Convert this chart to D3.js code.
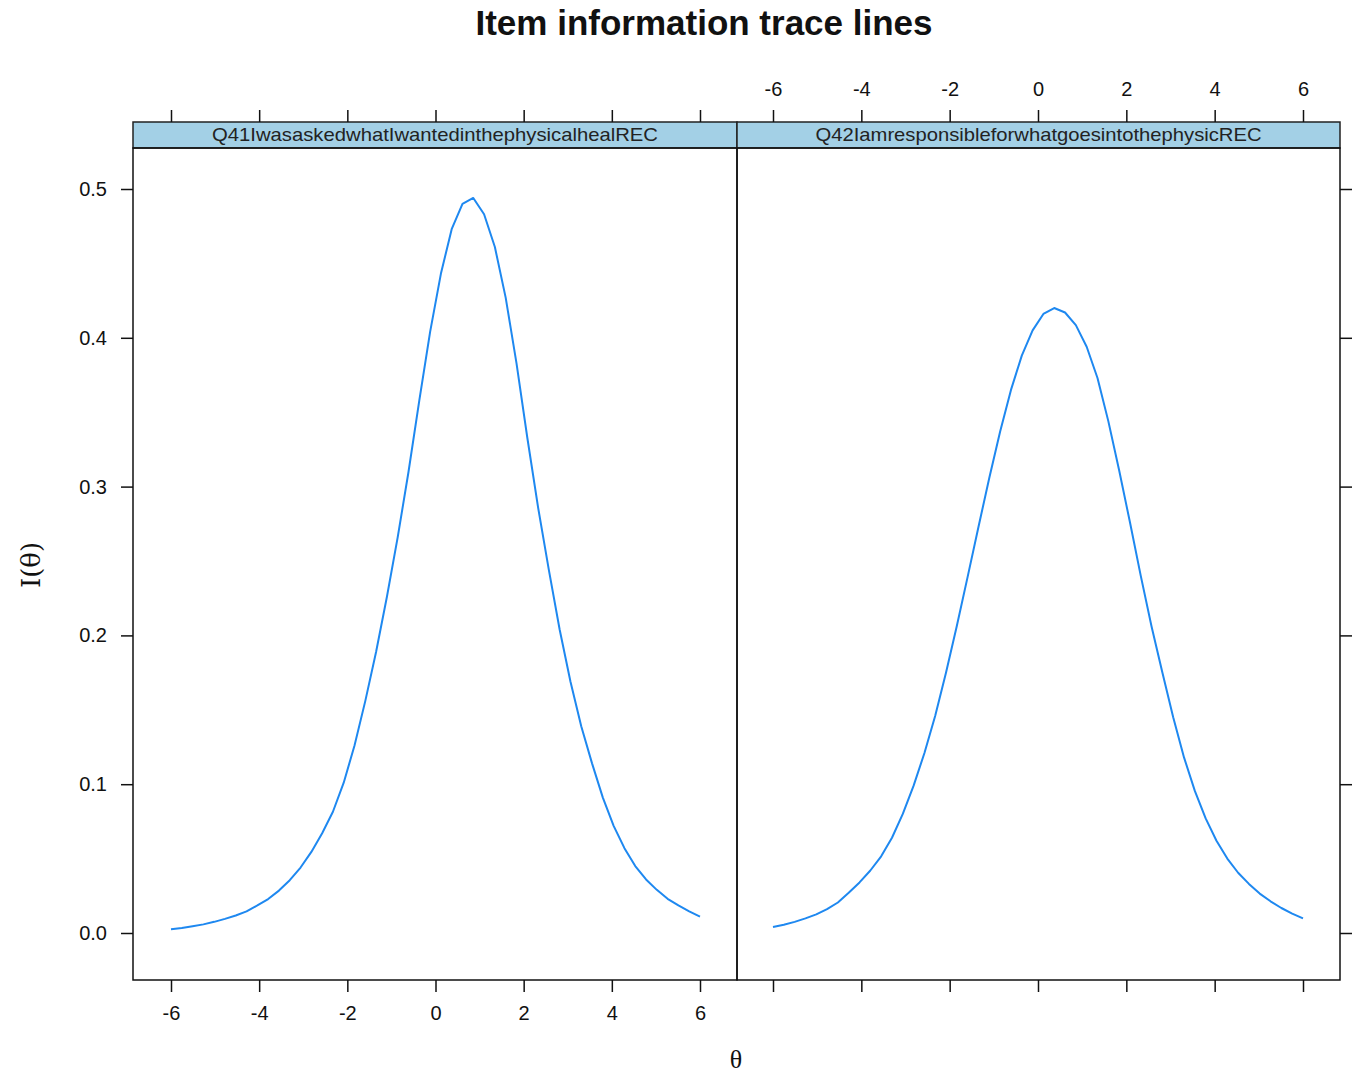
<!DOCTYPE html>
<html>
<head>
<meta charset="utf-8">
<script src="https://cdn.jsdelivr.net/npm/d3@7"></script>
<style>
  html, body { margin: 0; padding: 0; background: #fff; }
  svg { display: block; }
</style>
</head>
<body>
<svg id="chart" width="1357" height="1074"></svg>
<script>
// ---------- data ----------
const panelTitles = [
  "Q41IwasaskedwhatIwantedinthephysicalhealREC",
  "Q42IamresponsibleforwhatgoesintothephysicREC"
];
// theta grid used by the plot (50 points from -6 to 6)
const theta = [-6.000,-5.755,-5.510,-5.265,-5.020,-4.776,-4.531,-4.286,-4.041,-3.796,
  -3.551,-3.306,-3.061,-2.816,-2.571,-2.327,-2.082,-1.837,-1.592,-1.347,
  -1.102,-0.857,-0.612,-0.367,-0.122,0.122,0.367,0.612,0.857,1.102,
  1.347,1.592,1.837,2.082,2.327,2.571,2.816,3.061,3.306,3.551,
  3.796,4.041,4.286,4.531,4.776,5.020,5.265,5.510,5.755,6.000];
const infoQ41 = [0.0025,0.0033,0.0045,0.0058,0.0075,0.0095,0.0118,0.0145,0.0185,0.0228,
  0.0285,0.0355,0.0440,0.0545,0.0670,0.0815,0.1010,0.1260,0.1560,0.1890,
  0.2260,0.2660,0.3100,0.3580,0.4040,0.4430,0.4730,0.4900,0.4940,0.4830,
  0.4610,0.4270,0.3830,0.3330,0.2860,0.2440,0.2040,0.1690,0.1390,0.1140,
  0.0910,0.0720,0.0570,0.0450,0.0360,0.0290,0.0230,0.0185,0.0145,0.0110];
const infoQ42 = [0.0040,0.0055,0.0075,0.0098,0.0125,0.0160,0.0205,0.0270,0.0340,0.0420,
  0.0515,0.0640,0.0800,0.0990,0.1210,0.1460,0.1750,0.2065,0.2395,0.2730,
  0.3060,0.3370,0.3650,0.3880,0.4050,0.4160,0.4200,0.4170,0.4085,0.3940,
  0.3730,0.3440,0.3110,0.2760,0.2400,0.2060,0.1750,0.1450,0.1180,0.0955,
  0.0770,0.0620,0.0500,0.0405,0.0330,0.0265,0.0213,0.0168,0.0130,0.0098];
const series = [infoQ41, infoQ42];
const xTicks = [-6,-4,-2,0,2,4,6];
const yTicks = [0.0,0.1,0.2,0.3,0.4,0.5];

// ---------- layout ----------
const svg = d3.select("#chart");
const font = "'Liberation Sans', Arial, Helvetica, sans-serif";
const panelTop = 148, panelBottom = 980, stripTop = 122;
const panels = [
  {x0: 133, x1: 737, r0: 171, r1: 700},
  {x0: 737, x1: 1340, r0: 773, r1: 1303}
];
const y = d3.scaleLinear().domain([0, 0.5]).range([933, 189]);
const lineColor = "#1e88f0";
const tickLen = 12;
const fmtX = d => String(d);   // plain hyphen minus as in the reference

// title
svg.append("text")
  .attr("x", 704).attr("y", 35)
  .attr("text-anchor", "middle")
  .attr("font-family", font).attr("font-weight", "bold")
  .attr("font-size", 35)
  .attr("fill", "#111")
  .text("Item information trace lines");

panels.forEach((p, i) => {
  const x = d3.scaleLinear().domain([-6, 6]).range([p.r0, p.r1]);
  const g = svg.append("g");

  svg.append("clipPath").attr("id", "clip" + i)
    .append("rect").attr("x", p.x0).attr("y", panelTop)
    .attr("width", p.x1 - p.x0).attr("height", panelBottom - panelTop);

  const line = d3.line().x((d, j) => x(theta[j])).y(d => y(d));
  g.append("path")
    .datum(series[i])
    .attr("d", line)
    .attr("fill", "none")
    .attr("stroke", lineColor)
    .attr("stroke-width", 2)
    .attr("stroke-linejoin", "round")
    .attr("clip-path", "url(#clip" + i + ")");

  // strip
  g.append("rect")
    .attr("x", p.x0).attr("y", stripTop)
    .attr("width", p.x1 - p.x0).attr("height", panelTop - stripTop)
    .attr("fill", "#a3d0e6").attr("stroke", "#222").attr("stroke-width", 1.5);
  g.append("text")
    .attr("x", (p.x0 + p.x1) / 2).attr("y", panelTop - 7)
    .attr("text-anchor", "middle")
    .attr("font-family", font).attr("font-size", 19)
    .attr("textLength", 446).attr("lengthAdjust", "spacingAndGlyphs")
    .attr("fill", "#222")
    .text(panelTitles[i]);

  // panel border
  g.append("rect")
    .attr("x", p.x0).attr("y", panelTop)
    .attr("width", p.x1 - p.x0).attr("height", panelBottom - panelTop)
    .attr("fill", "none").attr("stroke", "#111").attr("stroke-width", 1.5);

  const bottom = d3.axisBottom(x).tickValues(xTicks).tickSize(tickLen).tickPadding(14)
    .tickFormat(i === 0 ? fmtX : () => "");
  const gb = g.append("g").attr("transform", `translate(0,${panelBottom})`).call(bottom);
  gb.select(".domain").remove();

  const top = d3.axisTop(x).tickValues(xTicks).tickSize(tickLen).tickPadding(14)
    .tickFormat(i === 1 ? fmtX : () => "");
  const gt = g.append("g").attr("transform", `translate(0,${stripTop})`).call(top);
  gt.select(".domain").remove();

  [gb, gt].forEach(ax => {
    ax.selectAll("line").attr("stroke", "#111").attr("stroke-width", 1.5);
    ax.selectAll("text").attr("font-family", font).attr("font-size", 20).attr("fill", "#111");
  });
});

// y axes
const left = d3.axisLeft(y).tickValues(yTicks).tickSize(tickLen).tickPadding(14)
  .tickFormat(d3.format(".1f"));
const gl = svg.append("g").attr("transform", `translate(${panels[0].x0},0)`).call(left);
gl.select(".domain").remove();
const right = d3.axisRight(y).tickValues(yTicks).tickSize(tickLen).tickFormat(() => "");
const gr = svg.append("g").attr("transform", `translate(${panels[1].x1},0)`).call(right);
gr.select(".domain").remove();
[gl, gr].forEach(ax => {
  ax.selectAll("line").attr("stroke", "#111").attr("stroke-width", 1.5);
  ax.selectAll("text").attr("font-family", font).attr("font-size", 20).attr("fill", "#111");
});

// axis titles
svg.append("text")
  .attr("transform", "translate(40,565) rotate(-90)")
  .attr("text-anchor", "middle")
  .attr("font-family", "'DejaVu Serif', 'Liberation Serif', serif")
  .attr("font-size", 26).attr("fill", "#111")
  .text("I(θ)");
svg.append("text")
  .attr("x", 736).attr("y", 1068)
  .attr("text-anchor", "middle")
  .attr("font-family", "'Liberation Serif', 'DejaVu Serif', serif")
  .attr("font-size", 26).attr("fill", "#111")
  .text("θ");
</script>
</body>
</html>
